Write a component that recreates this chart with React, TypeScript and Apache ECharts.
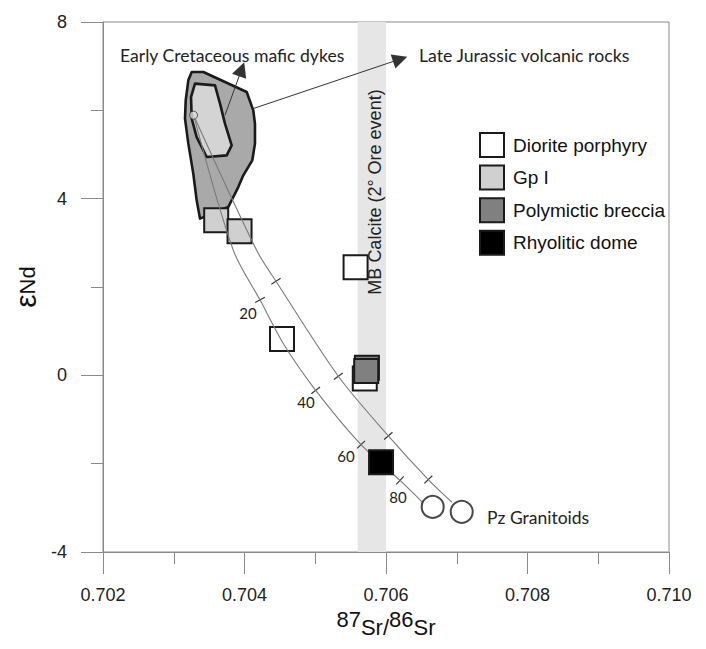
import React, { useEffect, useRef } from 'react';
import * as echarts from 'echarts';

// Axis ranges / ticks
const xRange = [0.702, 0.71];
const xInterval = 0.002;
const yRange = [-4, 8];
const yInterval = 4;

// Sample groups: [87Sr/86Sr, εNd]
const dioritePorphyry = [
  [0.70557, 2.45],
  [0.70453, 0.82],
  [0.7057, -0.07],
];
const gpI = [
  [0.7036, 3.51],
  [0.70393, 3.26],
];
const polymicticBreccia = [
  [0.70573, 0.17],
  [0.70572, 0.1],
];
const rhyoliticDome = [[0.70593, -1.97]];
const pzGranitoids = [
  [0.70666, -2.98],
  [0.70707, -3.09],
];
const mantleEndMember = [[0.70328, 5.89]];

// Fields
const lateJurassicField = [
  [0.703254, 6.867],
  [0.703418, 6.867],
  [0.704031, 6.414],
  [0.704124, 6.0],
  [0.704148, 5.699],
  [0.704148, 5.246],
  [0.70411, 4.868],
  [0.703983, 4.528],
  [0.703912, 4.263],
  [0.703771, 3.811],
  [0.703371, 3.548],
  [0.703324, 3.962],
  [0.703276, 4.567],
  [0.703206, 5.246],
  [0.703159, 5.812],
  [0.703169, 6.226],
  [0.703206, 6.679],
];
const earlyCretaceousField = [
  [0.7033, 6.605],
  [0.703583, 6.566],
  [0.703654, 6.152],
  [0.703724, 5.699],
  [0.703819, 5.208],
  [0.703748, 4.981],
  [0.703466, 4.943],
  [0.703324, 5.395],
  [0.703254, 5.812],
  [0.703244, 6.301],
];

// Mixing curves and their % marks
const mixingCurveA = [
  [0.70328, 5.89],
  [0.703842, 2.83],
  [0.704219, 1.71],
  [0.704548, 0.72],
  [0.705006, -0.34],
  [0.705647, -1.57],
  [0.706198, -2.38],
  [0.70652, -2.88],
];
const mixingCurveB = [
  [0.70328, 5.89],
  [0.704172, 2.83],
  [0.704445, 2.13],
  [0.705326, -0.02],
  [0.706033, -1.37],
  [0.706598, -2.36],
  [0.70693, -2.87],
];
const marksA = [
  [0.704219, 1.71],
  [0.705006, -0.34],
  [0.705647, -1.57],
  [0.706198, -2.38],
];
const marksB = [
  [0.704445, 2.13],
  [0.705326, -0.02],
  [0.706033, -1.37],
  [0.706598, -2.36],
];
const markLabels = ['20', '40', '60', '80'];

// MB calcite Sr band
const calciteBand = [0.7056, 0.706];

// Arrows from fields to their captions
const earlyCretaceousArrow = [
  [0.703724, 5.89],
  [0.70396, 6.93],
];
const lateJurassicArrow = [
  [0.704124, 6.04],
  [0.7062, 7.16],
];

const AXIS = '#8a8a8a';
const INK = '#1a1a1a';
const SANS = 'Liberation Sans, Arial, sans-serif';
const HUMANIST = 'Lato, Open Sans, sans-serif';

function fieldSeries(name: string, pts: number[][], fill: string) {
  return {
    type: 'custom',
    name,
    coordinateSystem: 'cartesian2d',
    silent: true,
    z: 2,
    data: pts,
    renderItem: (params: any, api: any) => {
      if (params.dataIndex !== 0) return null;
      return {
        type: 'polygon',
        shape: { points: pts.map((p) => api.coord(p)) },
        style: { fill, stroke: INK, lineWidth: 2.6, lineJoin: 'round' },
      };
    },
  };
}

function markSeries(marks: number[][], curve: number[][]) {
  return {
    type: 'custom',
    coordinateSystem: 'cartesian2d',
    silent: true,
    z: 4,
    data: marks,
    renderItem: (params: any, api: any) => {
      const p = marks[params.dataIndex];
      let i = 0;
      let best = Infinity;
      curve.forEach((c, k) => {
        const d = Math.abs(c[0] - p[0]) * 1000 + Math.abs(c[1] - p[1]);
        if (d < best) {
          best = d;
          i = k;
        }
      });
      const a = api.coord(curve[Math.max(i - 1, 0)]);
      const b = api.coord(curve[Math.min(i + 1, curve.length - 1)]);
      const c = api.coord(p);
      let dx = b[0] - a[0];
      let dy = b[1] - a[1];
      const len = Math.hypot(dx, dy) || 1;
      dx /= len;
      dy /= len;
      const nx = -dy;
      const ny = dx;
      const h = 5.5;
      return {
        type: 'line',
        shape: { x1: c[0] - nx * h, y1: c[1] - ny * h, x2: c[0] + nx * h, y2: c[1] + ny * h },
        style: { stroke: '#333', lineWidth: 1.2 },
      };
    },
  };
}

function squareSeries(name: string, data: number[][], fill: string, z: number) {
  return {
    type: 'scatter',
    name,
    data,
    symbol: 'rect',
    symbolSize: 24,
    z,
    itemStyle: { color: fill, borderColor: INK, borderWidth: 2, opacity: 1 },
    silent: true,
  };
}

function text(t: string, x: number, y: number, size: number, family: string, extra: any = {}) {
  return {
    type: 'text',
    x,
    y,
    z: 10,
    silent: true,
    ...extra,
    style: {
      text: t,
      fill: '#222',
      font: `${size}px ${family}`,
      textAlign: extra.align || 'left',
      align: extra.align || 'left',
      textVerticalAlign: 'middle',
      verticalAlign: 'middle',
    },
  };
}

const markLabelPos = [
  [248, 313],
  [306, 402],
  [346, 456],
  [398, 497],
];

const option: any = {
  animation: false,
  backgroundColor: '#fff',
  grid: { left: 103, right: 37, top: 22, bottom: 97, show: true, borderColor: AXIS, borderWidth: 1 },
  xAxis: {
    type: 'value',
    min: xRange[0],
    max: xRange[1],
    interval: xInterval,
    axisLine: { onZero: false, lineStyle: { color: AXIS, width: 1 } },
    axisTick: { length: 22, lineStyle: { color: AXIS } },
    minorTick: { show: true, splitNumber: 2, length: 12, lineStyle: { color: AXIS } },
    splitLine: { show: false },
    axisLabel: {
      margin: 34,
      fontSize: 18,
      color: '#222',
      fontFamily: SANS,
      formatter: (v: number) => v.toFixed(3),
    },
    name: '{a|87}{b|Sr/}{a|86}{b|Sr}',
    nameLocation: 'middle',
    nameGap: 56,
    nameTextStyle: {
      rich: {
        a: { fontSize: 22, fontFamily: SANS, color: '#111', verticalAlign: 'bottom', padding: [0, 0, 8, 0] },
        b: { fontSize: 22, fontFamily: SANS, color: '#111', verticalAlign: 'bottom' },
      },
    },
  },
  yAxis: {
    type: 'value',
    min: yRange[0],
    max: yRange[1],
    interval: yInterval,
    axisLine: { show: true, onZero: false, lineStyle: { color: AXIS, width: 1 } },
    axisTick: { show: true, length: 22, lineStyle: { color: AXIS } },
    minorTick: { show: true, splitNumber: 2, length: 12, lineStyle: { color: AXIS } },
    splitLine: { show: false },
    axisLabel: { margin: 36, fontSize: 18, color: '#222', fontFamily: SANS },
    name: '{e|ε}{n|Nd}',
    nameLocation: 'middle',
    nameGap: 46,
    nameRotate: 90,
    nameTextStyle: {
      rich: {
        e: { fontSize: 30, color: '#111', fontFamily: SANS, verticalAlign: 'bottom' },
        n: { fontSize: 22, color: '#111', fontFamily: SANS, verticalAlign: 'bottom', padding: [0, 0, 2, 0] },
      },
    },
  },
  legend: {
    orient: 'vertical',
    left: 474,
    top: 127,
    itemWidth: 24,
    itemHeight: 24,
    itemGap: 6.6,
    icon: 'rect',
    selectedMode: false,
    data: ['Diorite porphyry', 'Gp I', 'Polymictic breccia', 'Rhyolitic dome'],
    itemStyle: { borderColor: INK, borderWidth: 2 },
    textStyle: { fontSize: 19, color: '#111', fontFamily: SANS, padding: [0, 0, 0, 4] },
  },
  series: [
    {
      type: 'line',
      name: 'MB Calcite',
      data: [],
      silent: true,
      markArea: {
        silent: true,
        itemStyle: { color: '#e6e6e6' },
        data: [[{ xAxis: calciteBand[0] }, { xAxis: calciteBand[1] }]],
      },
    },
    fieldSeries('Late Jurassic volcanic rocks', lateJurassicField, '#a9a9a9'),
    fieldSeries('Early Cretaceous mafic dykes', earlyCretaceousField, '#d4d4d4'),
    squareSeries('Diorite porphyry', dioritePorphyry, '#ffffff', 3),
    squareSeries('Gp I', gpI, '#d0d0d0', 3),
    {
      type: 'line',
      data: mixingCurveA,
      showSymbol: false,
      smooth: 0.3,
      z: 4,
      silent: true,
      lineStyle: { color: '#7a7a7a', width: 1.1 },
    },
    {
      type: 'line',
      data: mixingCurveB,
      showSymbol: false,
      smooth: 0.3,
      z: 4,
      silent: true,
      lineStyle: { color: '#7a7a7a', width: 1.1 },
    },
    markSeries(marksA, mixingCurveA),
    markSeries(marksB, mixingCurveB),
    {
      type: 'lines',
      coordinateSystem: 'cartesian2d',
      silent: true,
      z: 4,
      symbol: ['none', 'triangle'],
      symbolSize: 15,
      lineStyle: { color: '#333', width: 1, opacity: 1 },
      data: [{ coords: earlyCretaceousArrow }, { coords: lateJurassicArrow }],
    },
    {
      type: 'scatter',
      data: mantleEndMember,
      symbol: 'circle',
      symbolSize: 8,
      z: 5,
      silent: true,
      itemStyle: { color: '#dcdcdc', borderColor: '#333', borderWidth: 1 },
    },
    squareSeries('Polymictic breccia', polymicticBreccia, '#808080', 5),
    squareSeries('Rhyolitic dome', rhyoliticDome, '#000000', 5),
    {
      type: 'scatter',
      name: 'Pz Granitoids',
      data: pzGranitoids,
      symbol: 'circle',
      symbolSize: 22,
      z: 5,
      silent: true,
      itemStyle: { color: '#fff', borderColor: INK, borderWidth: 2 },
    },
  ],
  graphic: [
    text('Early Cretaceous mafic dykes', 120, 55, 17.6, HUMANIST),
    text('Late Jurassic volcanic rocks', 419, 55, 17.7, HUMANIST),
    text('Pz Granitoids', 487, 517, 17.5, HUMANIST),
    text('MB Calcite (2° Ore event)', 375, 192, 18, SANS, { align: 'center', rotation: Math.PI / 2 }),
    ...markLabels.map((l, i) => text(l, markLabelPos[i][0], markLabelPos[i][1], 15, HUMANIST, { align: 'center' })),
  ],
};

export default function App() {
  const ref = useRef<HTMLDivElement>(null);
  useEffect(() => {
    document.body.style.margin = '0';
    const chart = echarts.init(ref.current!, null, { renderer: 'svg' });
    chart.setOption(option);
    return () => chart.dispose();
  }, []);
  return <div ref={ref} style={{ width: 706, height: 649, background: '#fff' }} />;
}
